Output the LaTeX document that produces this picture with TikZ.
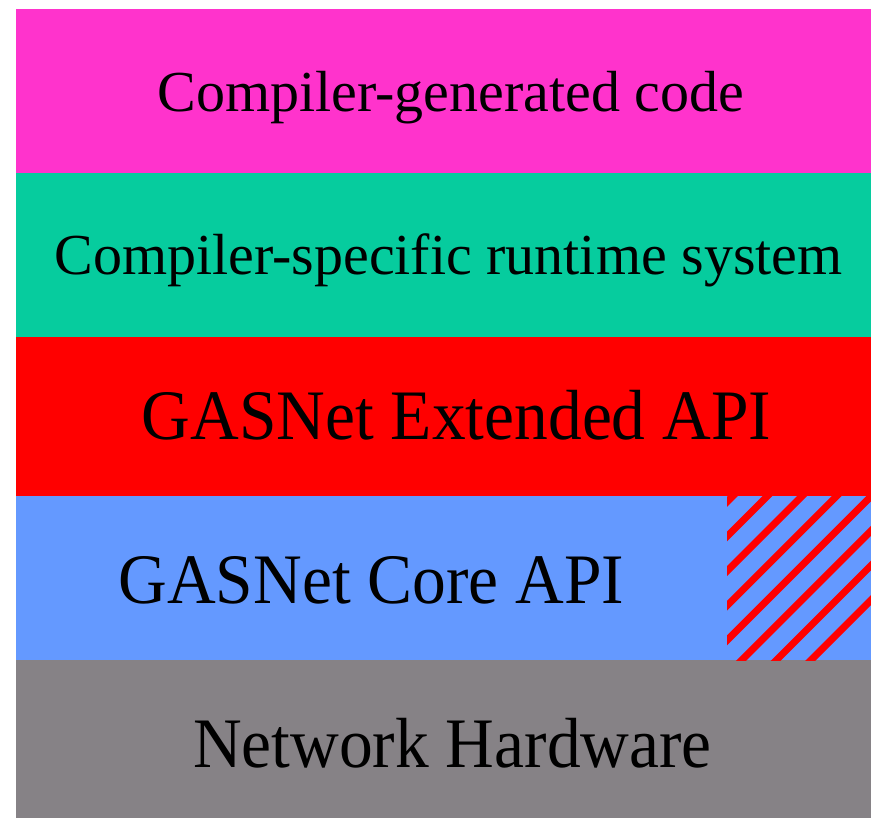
\documentclass[tikz,border=0pt]{standalone}
\usepackage{fontspec}
\setmainfont{Liberation Serif}
\definecolor{layerpink}{RGB}{255,51,204}
\definecolor{layerteal}{RGB}{6,204,158}
\definecolor{layerred}{RGB}{255,0,0}
\definecolor{layerblue}{RGB}{100,153,255}
\definecolor{layergray}{RGB}{134,130,134}
\tikzset{
  layertext/.style={anchor=base, inner sep=0pt, text=black},
  smalltext/.style={layertext, font=\fontsize{58}{60}\selectfont},
  bigtext/.style={layertext, font=\fontsize{71}{73}\selectfont},
  hatchline/.style={draw=layerred, line width=7pt}
}
\begin{document}
\begin{tikzpicture}[x=1pt, y=-1pt]
  \useasboundingbox (0,0) rectangle (871,818);
  % stacked layers
  \fill[layerpink] (16,9)   rectangle (871,173);
  \fill[layerteal] (16,173) rectangle (871,337);
  \fill[layerred]  (16,337) rectangle (871,496);
  \fill[layerblue] (16,496) rectangle (871,660);
  \fill[layergray] (16,660) rectangle (871,818);
  % hatched corner of the core layer
  \begin{scope}
    \clip (727,496) rectangle (871,660);
    \foreach \k in {-7,...,6}
      \draw[hatchline] ({765.5+34.6*\k+250},{498-250}) -- ({765.5+34.6*\k-250},{498+250});
  \end{scope}
  % layer labels
  \node[smalltext] (gen)  at (451,112)   {Compiler-generated code};
  \node[smalltext] (rts)  at (448.5,275) {Compiler-specific runtime system};
  \node[bigtext]   (ext)  at (456.5,440) {\scalebox{0.95}[1]{GASNet Extended API}};
  \node[bigtext]   (core) at (371.5,603) {\scalebox{0.95}[1]{GASNet Core API}};
  \node[bigtext]   (hw)   at (452.5,767) {\scalebox{0.95}[1]{Network Hardware}};
\end{tikzpicture}
\end{document}
